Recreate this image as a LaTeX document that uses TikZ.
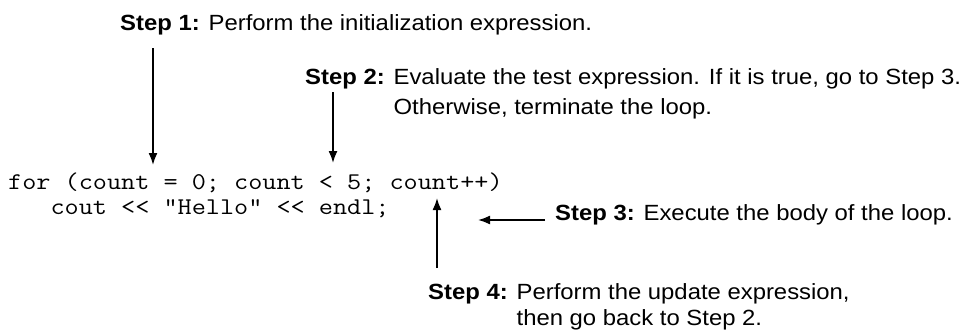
\documentclass[tikz,border=0pt]{standalone}
\usepackage{fontspec}
\setmainfont{Liberation Sans}[FakeStretch=1.085]
\newfontfamily\codefont{Latin Modern Mono}[FakeStretch=1.143]
\usetikzlibrary{arrows.meta}
\tikzset{
  lbl/.style={anchor=base west, inner sep=0pt, font=\fontsize{22}{26}\selectfont},
  code/.style={anchor=base west, inner sep=0pt, font=\codefont\fontsize{24}{26}\selectfont},
  arr/.style={line width=1.7pt, -{Latex[length=12pt,width=9pt]}}
}
\begin{document}
\begin{tikzpicture}[x=1pt,y=-1pt]
\useasboundingbox (0,0) rectangle (961,330);
\node[lbl] (s1) at (120,30) {\textbf{Step 1:} Perform the initialization expression.};
\node[lbl] (s2a) at (305,84) {\textbf{Step 2:} Evaluate the test expression. If it is true, go to Step 3.};
\node[lbl] (s2b) at (305,114) {\phantom{\textbf{Step 2:} }Otherwise, terminate the loop.};
\node[code] (c1) at (8,189) {for (count = 0; count < 5; count++)};
\node[code] (c2) at (8,214) {\ \ \ cout << "Hello" << endl;};
\node[lbl] (s3) at (555,220) {\textbf{Step 3:} Execute the body of the loop.};
\node[lbl] (s4a) at (428,299) {\textbf{Step 4:} Perform the update expression,};
\node[lbl] (s4b) at (428,325) {\phantom{\textbf{Step 4:} }then go back to Step 2.};
\coordinate (a1s) at (153,48);
\coordinate (a1e) at (153,165);
\coordinate (a2s) at (333,92);
\coordinate (a2e) at (333,163);
\coordinate (a4s) at (437,268);
\coordinate (a4e) at (437,198);
\coordinate (a3s) at (545,220);
\coordinate (a3e) at (478,220);
\draw[arr] (a1s) -- (a1e);
\draw[arr] (a2s) -- (a2e);
\draw[arr] (a4s) -- (a4e);
\draw[arr] (a3s) -- (a3e);
\end{tikzpicture}
\end{document}
